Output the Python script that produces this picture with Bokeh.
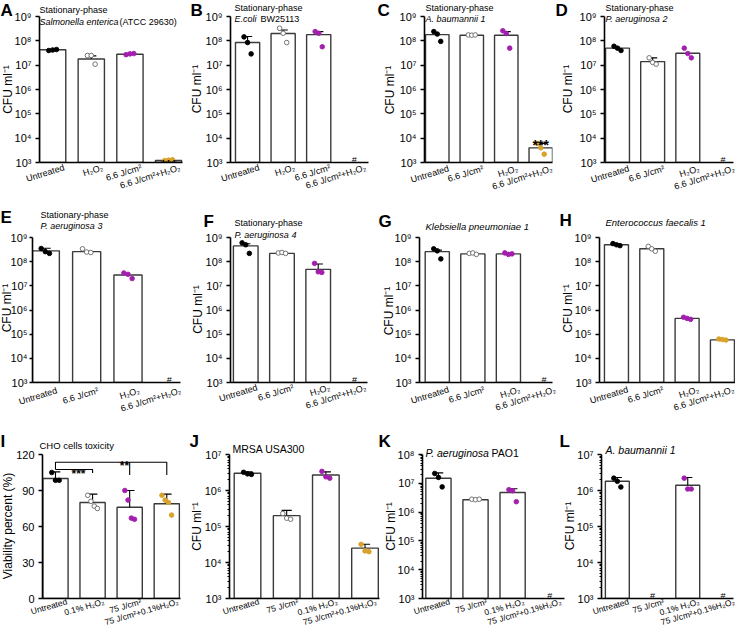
import math
from bokeh.plotting import figure
from bokeh.models import Range1d, FixedTicker, Label, GridBox
from bokeh.layouts import column, row
from bokeh.embed import file_html
from bokeh.resources import INLINE

FONT = "Liberation Sans"

# ---------------- tick values / labels ----------------
cfu_ticks = [1e3, 1e4, 1e5, 1e6, 1e7, 1e8, 1e9]
cfu_tick_labels = ["10³", "10⁴", "10⁵", "10⁶", "10⁷", "10⁸", "10⁹"]
via_ticks = [0, 30, 60, 90, 120]
via_tick_labels = ["0", "30", "60", "90", "120"]

# ---------------- category labels ----------------
cats_h2o2_first = ["Untreated", "H₂O₂", "6.6 J/cm²", "6.6 J/cm²+H₂O₂"]
cats_light_first = ["Untreated", "6.6 J/cm²", "H₂O₂", "6.6 J/cm²+H₂O₂"]
cats_I = ["Untreated", "0.1% H₂O₂", "75 J/cm²", "75 J/cm²+0.1%H₂O₂"]
cats_JKL = ["Untreated", "75 J/cm²", "0.1% H₂O₂", "75 J/cm²+0.1%H₂O₂"]

# ---------------- panel data (None = no bar, '#') ----------------
A_means = [4.3e7, 1.8e7, 2.8e7, 1.2e3]
A_err = [None, 2.4e7, None, None]
A_points = [[4.0e7, 4.2e7, 4.4e7], [2.5e7, 2.5e7, 1.1e7], [2.7e7, 2.9e7, 3.0e7], [1.2e3, 1.25e3, 1.3e3]]

B_means = [8.5e7, 2.0e8, 1.8e8, None]
B_err = [1.5e8, 2.8e8, 2.4e8, None]
B_points = [[1.45e8, 8.5e7, 2.9e7], [3.3e8, 2.05e8, 8.5e7], [2.4e8, 2.05e8, 5.7e7], []]

C_means = [1.8e8, 1.7e8, 1.7e8, 4.0e3]
C_err = [None, None, 2.4e8, 6.0e3]
C_points = [[2.4e8, 1.9e8, 9.5e7], [1.75e8, 1.7e8, 1.75e8], [2.6e8, 2.0e8, 5.0e7], [6.0e3, 4.0e3, 2.2e3]]

D_means = [5.0e7, 1.4e7, 3.1e7, None]
D_err = [None, 2.0e7, None, None]
D_points = [[6.0e7, 5.0e7, 4.0e7], [2.0e7, 1.3e7, 1.1e7], [5.0e7, 3.0e7, 2.0e7], []]

E_means = [2.8e8, 2.6e8, 2.8e7, None]
E_err = [3.6e8, None, None, None]
E_points = [[3.5e8, 2.6e8, 2.2e8], [3.4e8, 2.5e8, 2.4e8], [3.4e7, 3.0e7, 2.0e7], []]

F_means = [4.5e8, 2.2e8, 4.8e7, None]
F_err = [5.5e8, None, 8.0e7, None]
F_points = [[6.0e8, 5.0e8, 2.2e8], [2.3e8, 2.4e8, 2.2e8], [8.5e7, 3.8e7, 3.6e7], []]

G_means = [2.6e8, 2.1e8, 2.1e8, None]
G_err = [3.0e8, None, None, None]
G_points = [[3.4e8, 2.8e8, 1.3e8], [2.2e8, 2.3e8, 2.0e8], [2.3e8, 2.0e8, 2.1e8], []]

H_means = [5.0e8, 3.4e8, 4.5e5, 5.8e4]
H_err = [None, None, None, None]
H_points = [[5.6e8, 5.0e8, 4.6e8], [4.3e8, 3.4e8, 2.7e8], [5.0e5, 4.5e5, 4.1e5], [6.3e4, 6.0e4, 5.7e4]]

I_means = [100, 80, 76, 79]
I_err = [105.5, 87, 90, 87]
I_points = [[105, 98.5, 98.5], [86, 81, 77, 75], [90, 82, 67, 66], [86, 82, 80, 69.5]]

J_means = [3.0e6, 2.0e5, 2.7e6, 2.5e4]
J_err = [3.3e6, 2.8e5, 3.3e6, 3.2e4]
J_points = [[3.2e6, 2.9e6, 2.8e6], [2.3e5, 1.7e5, 1.6e5], [3.4e6, 2.4e6, 2.2e6], [3.2e4, 2.1e4, 2.0e4]]

K_means = [1.5e7, 2.7e6, 4.8e6, None]
K_err = [2.3e7, None, 6.5e6, None]
K_points = [[2.2e7, 1.6e7, 7.5e6], [2.8e6, 2.7e6, 2.8e6], [6.0e6, 5.5e6, 2.3e6], []]

L_means = [1.8e6, None, 1.4e6, None]
L_err = [2.3e6, None, 2.3e6, None]
L_points = [[2.2e6, 1.8e6, 1.25e6], [], [2.2e6, 1.1e6, 1.1e6], []]

# ---------------- styling ----------------
PT_FILL = ["black", "white", "#a21fae", "#d9a22b"]
PT_LINE = ["black", "#666666", "#a21fae", "#d9a22b"]
JITTER = {3: [-0.1, 0.0, 0.1], 4: [-0.13, -0.045, 0.045, 0.13]}

PAGE_W, PAGE_H = 735, 625
R1, R2, R3 = (8, 206), (206, 417), (417, 633)
C12 = [(8, 192), (192, 378), (378, 562), (562, 743)]
C3 = [(8, 192), (192, 392), (392, 580), (580, 743)]

# texts drawn on a transparent overlay figure (page-pixel coordinates)
OVERLAY = []


def otext(x, y, text, size, style="normal", align="left", baseline="middle", angle=0.0):
    OVERLAY.append(dict(x=x, y=y, text=text, size=size, style=style, align=align,
                        baseline=baseline, angle=angle))


def in_label(p, x, y, text, size, style="normal", yo=0):
    p.add_layout(Label(x=x, y=y, y_offset=yo, text=text, text_font=FONT,
                       text_font_size=f"{size}px", text_font_style=style,
                       text_align="center", text_baseline="alphabetic", text_color="black"))


def make_panel(g, letter, letter_xy, titles, cats, means, err, points, ylog, ticks, tick_labels,
               ylabel, ylabel_x, sig=None, minor=False, cat_size=9, cat_angle=0.3, cat_dy=0,
               tick_standoff=4, tick_out=4):
    colL, colR = g["col"]
    rowT, rowB = g["row"]
    y0, y1 = g["y0"], g["y1"]
    p = figure(width=colR - colL, height=rowB - rowT,
               x_range=Range1d(g["xs"], g["xe"]), y_range=Range1d(y0, y1),
               y_axis_type="log" if ylog else "linear",
               output_backend="svg", toolbar_location=None,
               min_border_left=g["L"] - colL, min_border_right=colR - g["R"],
               min_border_top=g["T"] - rowT, min_border_bottom=rowB - g["B"])
    p.outline_line_color = None
    p.xgrid.visible = False
    p.ygrid.visible = False
    p.background_fill_color = "white"
    p.border_fill_color = "white"

    yax = p.yaxis[0]
    minor_ticks = []
    if minor:
        minor_ticks = [k * 10 ** n for n in range(3, 9) for k in range(2, 10) if k * 10 ** n < y1]
    yax.ticker = FixedTicker(ticks=ticks, minor_ticks=minor_ticks)
    yax.major_label_overrides = {t: s for t, s in zip(ticks, tick_labels)}
    yax.major_label_text_font = FONT
    yax.major_label_text_font_size = "11px"
    yax.major_label_text_color = "black"
    yax.major_label_standoff = tick_standoff
    yax.axis_line_width = 1.6
    yax.axis_line_color = "black"
    yax.major_tick_out = tick_out
    yax.major_tick_in = 0
    yax.major_tick_line_width = 1.3
    yax.major_tick_line_color = "black"
    if minor:
        yax.minor_tick_out = 2
        yax.minor_tick_in = 0
        yax.minor_tick_line_color = "black"
    else:
        yax.minor_tick_line_color = None

    xax = p.xaxis[0]
    xax.ticker = FixedTicker(ticks=[])
    xax.axis_line_width = 1.6
    xax.axis_line_color = "black"
    xax.major_tick_line_color = None
    xax.minor_tick_line_color = None

    # bars
    bi = [i for i, m in enumerate(means) if m is not None]
    p.vbar(x=bi, top=[means[i] for i in bi], bottom=y0, width=0.68,
           fill_color="white", line_color="#3a3a3a", line_width=1.4)
    # error bars (upper)
    ei = [i for i, e in enumerate(err) if e is not None and means[i] is not None]
    if ei:
        p.segment(x0=ei, y0=[means[i] for i in ei], x1=ei, y1=[err[i] for i in ei],
                  line_color="black", line_width=1.1)
        p.segment(x0=[i - 0.13 for i in ei], y0=[err[i] for i in ei],
                  x1=[i + 0.13 for i in ei], y1=[err[i] for i in ei],
                  line_color="black", line_width=1.1)
    # points
    for i, vals in enumerate(points):
        if not vals:
            continue
        offs = JITTER[len(vals)]
        p.scatter(x=[i + o for o in offs], y=vals, size=4.6, marker="circle",
                  fill_color=PT_FILL[i], line_color=PT_LINE[i], line_width=0.9)
    # '#' for no growth (inside the frame)
    for i, m in enumerate(means):
        if m is None:
            in_label(p, i, y0, "#", 9, yo=3)
    # significance
    if sig:
        i, yref, yoff = sig
        in_label(p, i, yref, "***", 14, style="bold", yo=yoff)

    # ---- texts outside the frame (overlay, page pixels) ----
    def cx(i):
        return g["L"] + (i - g["xs"]) / (g["xe"] - g["xs"]) * (g["R"] - g["L"])
    for i, c in enumerate(cats):
        otext(cx(i) + 10, g["B"] + cat_dy, c, cat_size, align="right", baseline="top",
              angle=cat_angle)
    otext(ylabel_x, (g["T"] + g["B"]) / 2, ylabel, 12, align="center", baseline="middle",
          angle=math.pi / 2)
    otext(letter_xy[0], letter_xy[1], letter, 17, style="bold", baseline="top")
    for (tx, ty, tt, ts, st) in titles:
        otext(tx, ty, tt, ts, style=st)
    return p


def geo(col, rw, L, R, T, B, xs, xe, y0, y1):
    return dict(col=col, row=rw, L=L, R=R, T=T, B=B, xs=xs, xe=xe, y0=y0, y1=y1)


CFU = "CFU ml⁻¹"
SP = "Stationary-phase"

gA = geo(C12[0], R1, 47, 190, 24, 170, -0.34, 3.36, 1e3, 1e9)
pA = make_panel(gA, "A", (8, 8),
                [(47, 17, SP, 9, "normal"), (47, 29, "Salmonella enterica", 9, "italic"),
                 (127, 29, "(ATCC 29630)", 9, "normal")],
                cats_h2o2_first, A_means, A_err, A_points, True, cfu_ticks, cfu_tick_labels,
                CFU, 15, sig=(3, A_means[3], -4.5))

gB = geo(C12[1], R1, 238, 376, 23, 170, -0.48, 3.4, 1e3, 1e9)
pB = make_panel(gB, "B", (198, 8),
                [(242, 15, SP, 9, "normal"), (242, 26, "E.coli", 9, "italic"),
                 (268, 26, "BW25113", 9, "normal")],
                cats_h2o2_first, B_means, B_err, B_points, True, cfu_ticks, cfu_tick_labels,
                CFU, 204)

gC = geo(C12[2], R1, 432, 560, 24, 171, -0.37, 3.34, 1e3, 1e9)
pC = make_panel(gC, "C", (385, 8),
                [(433, 15, SP, 9, "normal"), (433, 26, "A. baumannii 1", 9, "italic")],
                cats_light_first, C_means, C_err, C_points, True, cfu_ticks, cfu_tick_labels,
                CFU, 397, sig=(3, C_err[3], -1.5))

gD = geo(C12[3], R1, 612, 741, 22, 171, -0.37, 3.3, 1e3, 1e9)
pD = make_panel(gD, "D", (563, 8),
                [(613, 15, SP, 9, "normal"), (613, 26, "P. aeruginosa 2", 9, "italic")],
                cats_light_first, D_means, D_err, D_points, True, cfu_ticks, cfu_tick_labels,
                CFU, 575)

gE = geo(C12[0], R2, 40, 188, 238, 393, -0.31, 3.27, 1e3, 1e9)
pE = make_panel(gE, "E", (8, 215),
                [(48, 222, SP, 9, "normal"), (48, 233, "P. aeruginosa 3", 9, "italic")],
                cats_light_first, E_means, E_err, E_points, True, cfu_ticks, cfu_tick_labels,
                CFU, 14.5, tick_standoff=2, tick_out=3)

gF = geo(C12[1], R2, 238, 375, 244, 390, -0.42, 3.36, 1e3, 1e9)
pF = make_panel(gF, "F", (211, 219),
                [(242, 230, SP, 9, "normal"), (242, 242, "P. aeruginosa 4", 9, "italic")],
                cats_light_first, F_means, F_err, F_points, True, cfu_ticks, cfu_tick_labels,
                CFU, 205)

gG = geo(C12[2], R2, 427, 560, 245, 392, -0.5, 3.24, 1e3, 1e9)
pG = make_panel(gG, "G", (386, 219),
                [(433, 234, "Klebsiella pneumoniae 1", 9.5, "italic")],
                cats_light_first, G_means, G_err, G_points, True, cfu_ticks, cfu_tick_labels,
                CFU, 396)

gH = geo(C12[3], R2, 607, 743, 240, 392, -0.48, 3.37, 1e3, 1e9)
pH = make_panel(gH, "H", (567, 218),
                [(613, 230, "Enterococcus faecalis 1", 9.5, "italic")],
                cats_light_first, H_means, H_err, H_points, True, cfu_ticks, cfu_tick_labels,
                CFU, 575)

ROW3 = dict(cat_size=8.5, cat_angle=0.28, cat_dy=-2)

gI = geo(C3[0], R3, 50, 188, 461, 606, -0.35, 3.37, 0, 120)
pI = make_panel(gI, "I", (8, 439),
                [(47, 453, "CHO cells toxicity", 9.5, "normal")],
                cats_I, I_means, I_err, I_points, False, via_ticks, via_tick_labels,
                "Viability percent (%)", 15, **ROW3)
# significance brackets in I
pI.multi_line(xs=[[0, 1, 1], [0, 0, 3, 3], [2, 2]],
              ys=[[107.5, 107.5, 104.5], [107.5, 113.5, 113.5, 103], [113.5, 103]],
              line_color="black", line_width=1.1)
in_label(pI, 0.62, 107.5, "***", 12, style="bold", yo=-4)
in_label(pI, 1.86, 113.5, "**", 12, style="bold", yo=-4)

gJ = geo(C3[1], R3, 237, 387, 462, 606, -0.46, 3.37, 1e3, 1e7)
pJ = make_panel(gJ, "J", (197, 439),
                [(240, 456, "MRSA USA300", 10.5, "normal")],
                cats_JKL, J_means, J_err, J_points, True, cfu_ticks[:5], cfu_tick_labels[:5],
                CFU, 204, minor=True, **ROW3)

gK = geo(C3[2], R3, 430, 572, 462, 606, -0.43, 3.4, 1e3, 1e8)
pK = make_panel(gK, "K", (386, 439),
                [(433, 460, "P. aeruginosa", 10.5, "italic"), (499, 460, "PAO1", 10.5, "normal")],
                cats_JKL, K_means, K_err, K_points, True, cfu_ticks[:6], cfu_tick_labels[:6],
                CFU, 398, minor=True, **ROW3)

gL = geo(C3[3], R3, 609, 741, 461, 606, -0.45, 3.3, 1e3, 1e7)
pL = make_panel(gL, "L", (567, 439),
                [(613, 457, "A. baumannii 1", 10.5, "italic")],
                cats_JKL, L_means, L_err, L_points, True, cfu_ticks[:5], cfu_tick_labels[:5],
                CFU, 577, minor=True, **ROW3)

panels = column(row(pA, pB, pC, pD), row(pE, pF, pG, pH), row(pI, pJ, pK, pL))

# transparent overlay figure holding the texts outside the plot frames.
# y is stored as -page_y so that the range increases upward (normal rotation sense).
ov = figure(width=PAGE_W, height=PAGE_H, x_range=Range1d(8, 8 + PAGE_W),
            y_range=Range1d(-(8 + PAGE_H), -8), x_axis_location=None, y_axis_location=None,
            output_backend="svg", toolbar_location=None,
            min_border_left=0, min_border_right=0, min_border_top=0, min_border_bottom=0)
ov.xgrid.visible = False
ov.ygrid.visible = False
ov.outline_line_color = None
ov.background_fill_color = None
ov.border_fill_color = None
for t in OVERLAY:
    ov.add_layout(Label(x=t["x"], y=-t["y"], text=t["text"], angle=t["angle"],
                        text_font=FONT, text_font_size=f'{t["size"]}px',
                        text_font_style=t["style"], text_align=t["align"],
                        text_baseline=t["baseline"], text_color="black"))

layout = GridBox(children=[(panels, 0, 0), (ov, 0, 0)])
open("out.html", "w").write(file_html(layout, INLINE))
